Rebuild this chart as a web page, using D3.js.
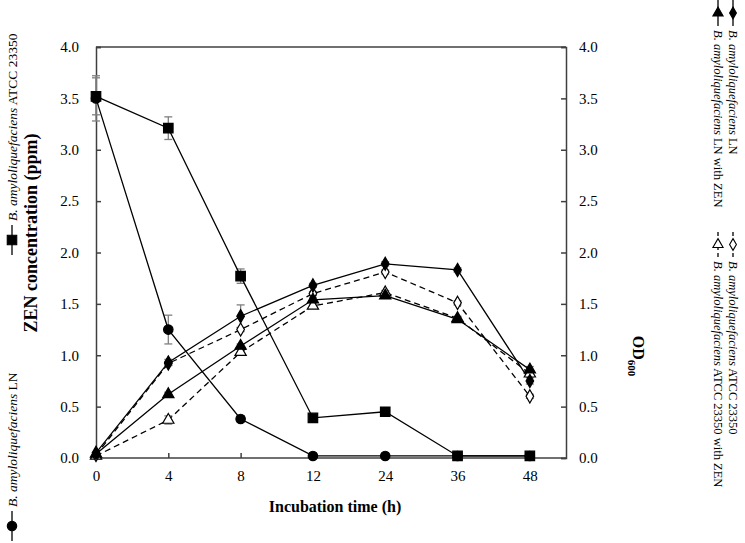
<!DOCTYPE html>
<html><head><meta charset="utf-8">
<script src="https://cdn.jsdelivr.net/npm/d3@7"></script>
<style>body{margin:0;background:#fff} text{font-family:"Liberation Serif","Times New Roman",serif;fill:#000}</style>
</head><body><svg id="c" width="745" height="543"></svg>
<script>
const times = ["0","4","8","12","24","36","48"];
const yTicks = [0,0.5,1,1.5,2,2.5,3,3.5,4];
const zenLN = [3.50,1.25,0.38,0.02,0.02,0.02,0.02];
const zenLNErr = [0.22,0.14,0.03,0,0,0,0];
const zenATCC = [3.52,3.21,1.77,0.39,0.45,0.02,0.02];
const zenATCCErr = [0.18,0.11,0.07,0.02,0.02,0,0];
const odLN = [0.05,0.93,1.38,1.68,1.89,1.83,0.75];
const odLNErr = [0,0.03,0.11,0.02,0.02,0.02,0.03];
const odATCC = [0.03,0.92,1.25,1.60,1.81,1.51,0.60];
const odATCCErr = [0,0.02,0.02,0.02,0.02,0.02,0.02];
const odLNZEN = [0.04,0.62,1.09,1.54,1.58,1.35,0.86];
const odLNZENErr = [0,0.02,0.02,0.02,0.02,0.02,0.03];
const odATCCZEN = [0.02,0.37,1.03,1.48,1.61,1.36,0.82];
const odATCCZENErr = [0,0.04,0.03,0.02,0.02,0.02,0.02];

const svg = d3.select("#c");
const L=96,R=566,T=47,B=458;
const x = d3.scaleLinear().domain([0,6.5]).range([L,R]);
const y = d3.scaleLinear().domain([0,4]).range([B,T]);
const axisCol="#404040";

svg.append("line").attr("x1",L).attr("x2",R).attr("y1",T).attr("y2",T).attr("stroke",axisCol).attr("stroke-width",1.5);

const fmt=d3.format(".1f");
const gl=svg.append("g").attr("transform",`translate(${L},0)`).call(d3.axisLeft(y).tickValues(yTicks).tickFormat(fmt).tickSize(-5).tickPadding(17));
const gr=svg.append("g").attr("transform",`translate(${R},0)`).call(d3.axisRight(y).tickValues(yTicks).tickFormat(fmt).tickSize(-5).tickPadding(13));
const gb=svg.append("g").attr("transform",`translate(0,${B})`).call(d3.axisBottom(x).tickValues(d3.range(times.length)).tickFormat(i=>times[i]).tickSize(-5).tickPadding(12));
[gl,gr,gb].forEach(g=>{
  g.select(".domain").attr("stroke",axisCol).attr("stroke-width",1.5);
  g.selectAll(".tick line").attr("stroke",axisCol).attr("stroke-width",1.5);
  g.selectAll(".tick text").attr("font-size",15).attr("font-family","Liberation Serif").attr("fill","#000");
});
gb.select(".domain").attr("d",`M${L},0H${R}`);
gb.selectAll(".tick").filter(d=>d===0).select("line").remove();

svg.append("text").attr("x",(L+R)/2+4).attr("y",512).attr("text-anchor","middle").attr("font-weight","bold").attr("font-size",16).text("Incubation time (h)");
svg.append("text").attr("transform",`translate(37,233) rotate(-90)`).attr("text-anchor","middle").attr("font-weight","bold").attr("font-size",18).text("ZEN concentration (ppm)");
const od=svg.append("text").attr("transform",`translate(633,356) rotate(90)`).attr("text-anchor","middle").attr("font-weight","bold").attr("font-size",16);
od.append("tspan").text("OD");
od.append("tspan").attr("font-size",11).attr("dy",5).text("600");

const series=[
 {v:zenLN,e:zenLNErr,sym:d3.symbolCircle,size:70,fill:"#000",dash:null},
 {v:zenATCC,e:zenATCCErr,sym:d3.symbolSquare,size:90,fill:"#000",dash:null},
 {v:odATCCZEN,e:odATCCZENErr,sym:d3.symbolTriangle,size:55,fill:"#fff",dash:"6,4"},
 {v:odATCC,e:odATCCErr,sym:d3.symbolDiamond,size:50,fill:"#fff",dash:"6,4"},
 {v:odLNZEN,e:odLNZENErr,sym:d3.symbolTriangle,size:55,fill:"#000",dash:null},
 {v:odLN,e:odLNErr,sym:d3.symbolDiamond,size:50,fill:"#000",dash:null},
];
const line=d3.line().x((d,i)=>x(i)).y(d=>y(d));
series.forEach(s=>{
  const g=svg.append("g").attr("stroke","#808080").attr("stroke-width",1.3);
  s.v.forEach((v,i)=>{
    const e=s.e[i]; if(!e) return;
    const cx=x(i);
    g.append("line").attr("x1",cx).attr("x2",cx).attr("y1",y(v-e)).attr("y2",y(v+e));
    g.append("line").attr("x1",cx-4).attr("x2",cx+4).attr("y1",y(v-e)).attr("y2",y(v-e));
    g.append("line").attr("x1",cx-4).attr("x2",cx+4).attr("y1",y(v+e)).attr("y2",y(v+e));
  });
});
series.forEach(s=>{
  svg.append("path").attr("d",line(s.v)).attr("fill","none").attr("stroke","#000").attr("stroke-width",1.3).attr("stroke-dasharray",s.dash);
});
series.forEach(s=>{
  svg.append("g").selectAll("path").data(s.v).join("path")
    .attr("transform",(d,i)=>`translate(${x(i)},${y(d)})`)
    .attr("d",d3.symbol(s.sym,s.size))
    .attr("fill",s.fill).attr("stroke","#000").attr("stroke-width",1.2);
});

function legendItem(tx,ty,rot,len,s,parts,fs,msize){
  const g=svg.append("g").attr("transform",`translate(${tx},${ty}) rotate(${rot})`);
  g.append("line").attr("x1",0).attr("x2",len).attr("y1",0).attr("y2",0).attr("stroke","#000").attr("stroke-width",1.3).attr("stroke-dasharray",s.dash?"4,3":null);
  g.append("path").attr("transform",`translate(${len/2},0) rotate(${-rot})`).attr("d",d3.symbol(s.sym,msize||s.size)).attr("fill",s.fill).attr("stroke","#000").attr("stroke-width",1.1);
  const t=g.append("text").attr("x",len+4).attr("y",0).attr("dy","0.35em").attr("font-size",fs);
  parts.forEach(p=>t.append("tspan").attr("font-style",p[1]?"italic":"normal").text(p[0]));
}
legendItem(12,541,-90,30,series[0],[["B. amyloliquefaciens",1],[" LN",0]],13.5);
legendItem(12,255,-90,30,series[1],[["B. amyloliquefaciens",1],[" ATCC 23350",0]],13.5);
legendItem(733,0,90,26,series[5],[["B. amyloliquefaciens",1],[" LN",0]],12.5,40);
legendItem(718,0,90,26,series[4],[["B. amyloliquefaciens",1],[" LN with ZEN",0]],12.5,45);
legendItem(733,232,90,25,series[3],[["B. amyloliquefaciens",1],[" ATCC 23350",0]],12.5,40);
legendItem(718,232,90,25,series[2],[["B. amyloliquefaciens",1],[" ATCC 23350 with ZEN",0]],12.5,45);
</script></body></html>
